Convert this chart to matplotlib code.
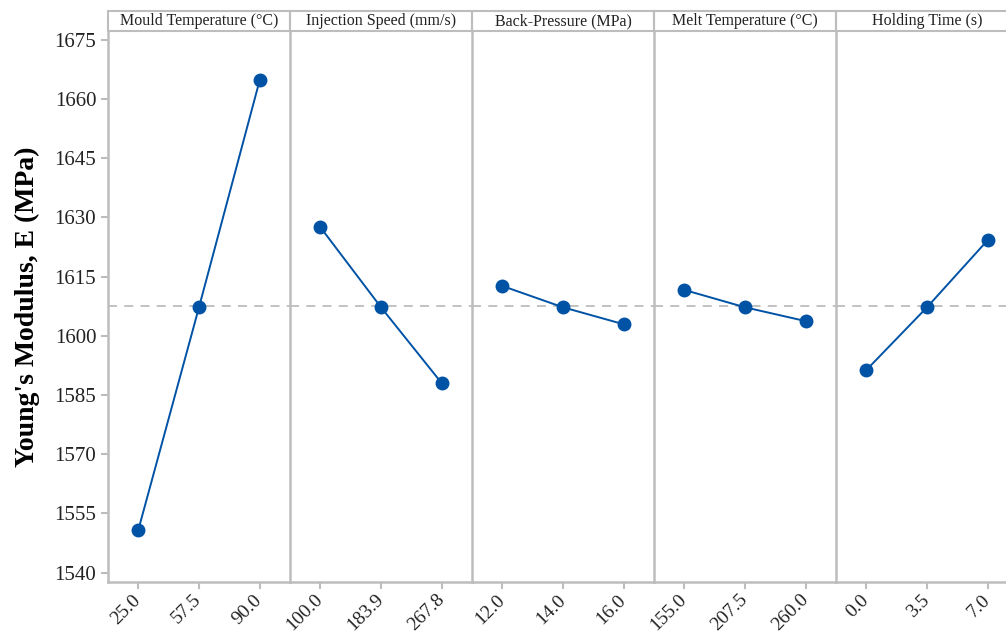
import matplotlib
matplotlib.use('Agg')
import matplotlib.pyplot as plt
from matplotlib.patches import Rectangle

plt.rcParams['font.family'] = ['Liberation Serif', 'DejaVu Serif']

## Factors and levels ##
factors = ['Mould Temperature (°C)', 'Injection Speed (mm/s)', 'Back-Pressure (MPa)',
           'Melt Temperature (°C)', 'Holding Time (s)']
levels = [['25.0', '57.5', '90.0'],
          ['100.0', '183.9', '267.8'],
          ['12.0', '14.0', '16.0'],
          ['155.0', '207.5', '260.0'],
          ['0.0', '3.5', '7.0']]

## Mean Young's modulus at each level (MPa) ##
mould_temp = [1550.8, 1607.2, 1664.7]
inj_speed = [1627.5, 1607.2, 1588.0]
back_pressure = [1612.6, 1607.2, 1602.9]
melt_temp = [1611.6, 1607.2, 1603.7]
holding_time = [1591.3, 1607.2, 1624.2]
means = [mould_temp, inj_speed, back_pressure, melt_temp, holding_time]
grand_mean = 1607.6

grey = '#bdbdbd'
blue = '#0052a5'

fig = plt.figure(figsize=(10.06, 6.37), dpi=100)
left, bottom, w, h = 108/1006, 55/637, 182/1006, 551/637

for i in range(5):
    ax = fig.add_axes([left + i*w, bottom, w, h])
    ax.patch.set_visible(False)
    ax.axhline(grand_mean, color=grey, ls=(0, (5, 4)), lw=1.3, zorder=1)
    ax.plot([0, 1, 2], means[i], '-', color=blue, lw=1.4, zorder=2)
    ax.plot([0, 1, 2], means[i], 'o', color=blue, ms=9, zorder=3)
    ax.set_xlim(-0.5, 2.5)
    ax.set_ylim(1537.6, 1677.2)
    ax.set_xticks([0, 1, 2])
    ax.set_xticklabels(levels[i], rotation=45, ha='right', va='center',
                       rotation_mode='anchor', fontsize=14)
    for s in ax.spines.values():
        s.set_color(grey)
        s.set_linewidth(1.8)
    ax.spines['top'].set_visible(False)
    ax.tick_params(axis='x', colors=grey, labelcolor='#222222', length=5, width=1.5, pad=6)
    if i == 0:
        ax.set_yticks(range(1540, 1676, 15))
        ax.tick_params(axis='y', colors=grey, labelcolor='#222222', length=5, width=1.5, labelsize=15)
        ax.set_ylabel("Young's Modulus, E (MPa)", fontsize=20, fontweight='bold', labelpad=10)
    else:
        ax.spines['left'].set_visible(False)
        ax.tick_params(axis='y', left=False, labelleft=False)

    # header strip above each panel
    sh = 20/551
    ax.add_patch(Rectangle((0, 1), 1, sh, transform=ax.transAxes, fill=False,
                           edgecolor=grey, lw=1.5, clip_on=False))
    ax.text(0.5, 1 + sh/2, factors[i], transform=ax.transAxes, ha='center', va='center',
            fontsize=11.5, color='#222222')

fig.savefig('out.png', dpi=100)
